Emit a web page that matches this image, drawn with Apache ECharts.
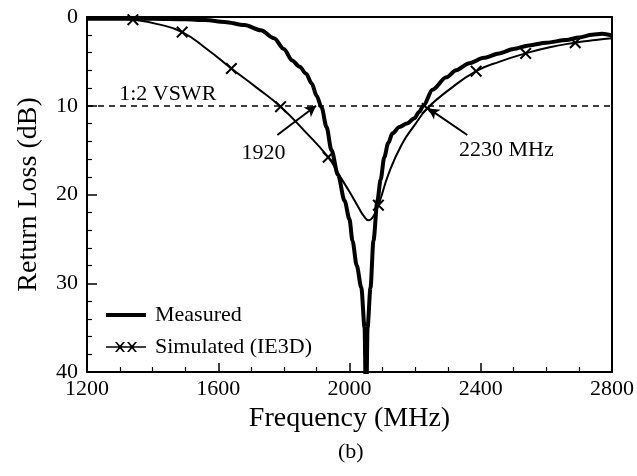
<!DOCTYPE html>
<html>
<head>
<meta charset="utf-8">
<script src="https://cdn.jsdelivr.net/npm/echarts@6/dist/echarts.min.js"></script>
<style>html,body{margin:0;padding:0;background:#fff}#c{width:637px;height:476px}</style>
</head>
<body>
<div id="c"></div>
<script>
// Measured return loss (frequency MHz, dB)
const measuredFreq = [1200,1300,1400,1500,1560,1620,1680,1730,1770,1800,1825,1848,1868,1885,1900,1915,1930,1945,1965,1985,2000,2009,2022,2036,2046,2049,2052,2055,2064,2073,2085,2095,2106,2118,2131,2152,2175,2198,2212,2225,2253,2295,2325,2365,2410,2456,2500,2547,2600,2660,2700,2739,2770,2800];
const measuredLoss = [0.2,0.2,0.2,0.25,0.35,0.55,0.9,1.5,2.4,3.6,4.9,5.6,6.4,7.5,8.9,10.2,12.4,15.0,17.8,20.7,22.8,25.2,28.0,30.5,35.0,41,41,35.0,30.5,25.2,20.7,18.3,15.8,14.2,13.1,12.4,12.0,11.4,10.7,10.0,8.2,6.8,6.0,5.2,4.6,4.1,3.6,3.2,2.9,2.6,2.3,2.0,1.9,2.1];
// Simulated (IE3D)
const simFreq = [1200,1270,1340,1415,1490,1565,1640,1715,1790,1862,1935,1970,2000,2025,2045,2058,2072,2088,2120,2160,2200,2237,2300,2386,2460,2537,2610,2688,2750,2800];
const simLoss = [0.0,0.1,0.3,0.8,1.7,3.6,5.8,7.9,10.1,12.8,15.8,17.9,19.7,21.3,22.5,22.9,22.5,21.2,17.6,14.3,12.1,10.3,8.3,6.1,5.0,4.1,3.4,2.9,2.6,2.4];
const simMarkerFreq = [1340,1490,1640,1790,1935,2088,2237,2386,2537,2688];
// axis ticks
const xTicks = [1200,1600,2000,2400,2800];
const yTicks = [0,10,20,30,40];
// annotations
const vswrLevel = 10;
const annotTexts = [[1446,8.7,'1:2 VSWR'],[1738,15.3,'1920'],[2478,15.0,'2230 MHz']];
const arrows = [[[1780,13.3],[1898,10.0]],[[2359,13.3],[2240,10.3]]];

const FONT = '"Liberation Serif","DejaVu Serif",serif';
const XPATH = 'path://M0,1.2L1.2,0L5,3.8L8.8,0L10,1.2L6.2,5L10,8.8L8.8,10L5,6.2L1.2,10L0,8.8L3.8,5Z';
const MEAS_ICON = 'path://M0,0L0.01,0L0.01,0.01Z M0,5H40V9H0Z M39.99,13.99L40,14L39.99,14Z';
const SIM_ICON = 'path://M0,0L0.01,0L0.01,0.01Z M0,6.2H40V7.8H0Z M9,2L11,2L14,5.5L17,2L19,2L15,7L19,12L17,12L14,8.5L11,12L9,12L13,7Z M21,2L23,2L26,5.5L29,2L31,2L27,7L31,12L29,12L26,8.5L23,12L21,12L25,7Z M39.99,13.99L40,14L39.99,14Z';

const measuredData = measuredFreq.map((f,i)=>[f,measuredLoss[i]]);
const simData = simFreq.map((f,i)=>{
  const d = {value:[f,simLoss[i]]};
  if (simMarkerFreq.indexOf(f) < 0) d.symbol = 'none';
  return d;
});

const chart = echarts.init(document.getElementById('c'), null, {renderer:'canvas'});
chart.setOption({
  animation:false,
  backgroundColor:'#fff',
  textStyle:{fontFamily:FONT,color:'#000'},
  title:{text:'(b)',left:333,top:436,textStyle:{fontFamily:FONT,fontSize:22,fontWeight:'normal',color:'#000'}},
  grid:{left:87,top:17,right:24,bottom:104},
  legend:{
    data:[{name:'Measured',icon:MEAS_ICON},{name:'Simulated (IE3D)',icon:SIM_ICON}],
    orient:'vertical',left:101,top:299,itemWidth:40,itemHeight:14,itemGap:10,
    itemStyle:{color:'#000',borderWidth:0},
    textStyle:{fontFamily:FONT,fontSize:22,color:'#000',padding:[0,0,0,4]},
    selectedMode:false
  },
  xAxis:[{
    type:'value',min:xTicks[0],max:xTicks[xTicks.length-1],interval:400,
    name:'Frequency (MHz)',nameLocation:'middle',nameGap:32,
    nameTextStyle:{fontFamily:FONT,fontSize:28,color:'#000'},
    axisLine:{show:true,onZero:false,lineStyle:{color:'#000',width:2}},
    axisTick:{show:true,inside:true,length:9,lineStyle:{color:'#000',width:1.5}},
    minorTick:{show:true,splitNumber:4,length:5,lineStyle:{color:'#000',width:1.2}},
    axisLabel:{fontFamily:FONT,fontSize:22,color:'#000',margin:6,formatter:v=>String(v)},
    splitLine:{show:false}
  },{
    type:'value',position:'top',min:xTicks[0],max:xTicks[xTicks.length-1],
    axisLine:{show:true,onZero:false,lineStyle:{color:'#000',width:2}},
    axisTick:{show:false},axisLabel:{show:false},splitLine:{show:false}
  }],
  yAxis:[{
    type:'value',inverse:true,min:yTicks[0],max:yTicks[yTicks.length-1],interval:10,
    name:'Return Loss (dB)',nameLocation:'middle',nameGap:44,
    nameTextStyle:{fontFamily:FONT,fontSize:28,color:'#000'},
    axisLine:{show:true,onZero:false,lineStyle:{color:'#000',width:2}},
    axisTick:{show:true,inside:true,length:10,lineStyle:{color:'#000',width:1.5}},
    minorTick:{show:true,splitNumber:5,length:5,lineStyle:{color:'#000',width:1.2}},
    axisLabel:{fontFamily:FONT,fontSize:22,color:'#000',margin:9,formatter:v=>String(v)},
    splitLine:{show:false}
  },{
    type:'value',position:'right',inverse:true,min:yTicks[0],max:yTicks[yTicks.length-1],
    axisLine:{show:true,onZero:false,lineStyle:{color:'#000',width:2}},
    axisTick:{show:false},axisLabel:{show:false},splitLine:{show:false}
  }],
  series:[
    {
      name:'Measured',type:'line',data:measuredData,showSymbol:false,symbol:'none',
      smooth:0.3,smoothMonotone:'x',clip:true,
      lineStyle:{color:'#000',width:4},itemStyle:{color:'#000'},z:3,
      markLine:{
        silent:true,symbol:['none','none'],animation:false,
        label:{show:false},
        lineStyle:{color:'#000',width:1.5,type:[6,5]},
        data:[{yAxis:vswrLevel}]
      }
    },
    {
      name:'Simulated (IE3D)',type:'line',data:simData,
      symbol:XPATH,symbolSize:12,showAllSymbol:true,
      smooth:0.5,clip:true,
      lineStyle:{color:'#000',width:2},itemStyle:{color:'#000'},z:4
    },
    {
      name:'annot',type:'scatter',data:annotTexts,symbol:'circle',symbolSize:1,
      itemStyle:{color:'rgba(0,0,0,0)'},silent:true,z:6,
      label:{show:true,position:'inside',formatter:p=>p.data[2],fontFamily:FONT,fontSize:22,color:'#000',opacity:1,textBorderWidth:0},
      markLine:{
        silent:true,symbol:['none','arrow'],symbolSize:[9,11],animation:false,
        label:{show:false},
        lineStyle:{color:'#000',width:2,type:'solid'},
        data:arrows.map(a=>[{coord:a[0]},{coord:a[1]}])
      }
    }
  ]
});
</script>
</body>
</html>
